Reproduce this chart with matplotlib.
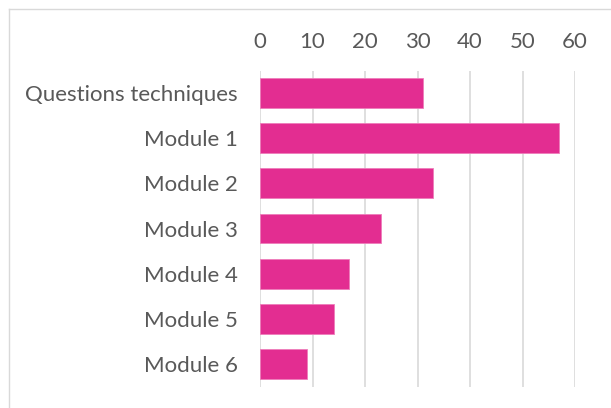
import matplotlib.pyplot as plt
from matplotlib.lines import Line2D

categories = ['Questions techniques', 'Module 1', 'Module 2', 'Module 3',
              'Module 4', 'Module 5', 'Module 6']
values = [31, 57, 33, 23, 17, 14, 9]
ticks = [0, 10, 20, 30, 40, 50, 60]

plt.rcParams['font.family'] = ['Lato', 'DejaVu Sans']
text_color = '#595959'

fig = plt.figure(figsize=(6.11, 4.08), dpi=100)
ax = fig.add_axes([260 / 611, 1 - 386.5 / 408, 315 / 611, 316 / 408])

pos = list(range(len(categories)))
ax.barh(pos, values, height=0.66, color='#E32D91', edgecolor='#EE7DBB',
        linewidth=0.6, zorder=3)
ax.set_ylim(len(categories) - 0.5, -0.5)
ax.set_yticks(pos)
ax.set_yticklabels(categories)
ax.set_xlim(0, 60)
ax.set_xticks(ticks)
ax.xaxis.tick_top()
ax.tick_params(axis='both', length=0, labelsize=16, colors=text_color)
ax.tick_params(axis='x', pad=13)
ax.tick_params(axis='y', pad=16)
ax.grid(axis='x', color='#D9D9D9', linewidth=1.2, zorder=0)
for s in ax.spines.values():
    s.set_visible(False)

# chart frame (left and top edges only visible in the crop)
fig.add_artist(Line2D([8.5 / 611, 8.5 / 611], [0, 1 - 9 / 408],
                      transform=fig.transFigure, color='#D9D9D9', lw=1))
fig.add_artist(Line2D([8.5 / 611, 1], [1 - 9 / 408, 1 - 9 / 408],
                      transform=fig.transFigure, color='#D9D9D9', lw=1))

fig.savefig('out.png', dpi=100)
